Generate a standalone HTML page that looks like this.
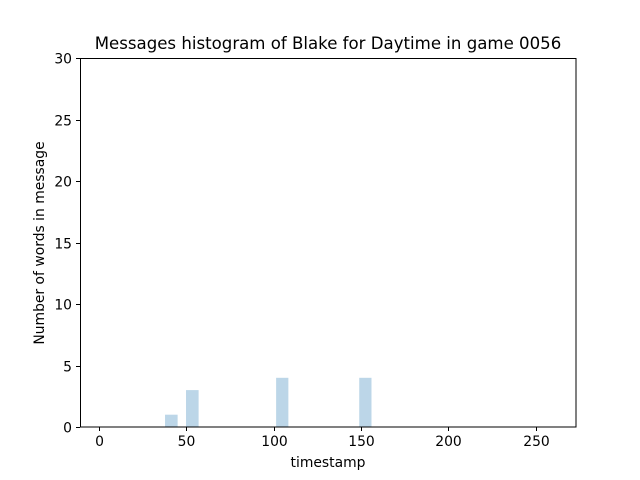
<!DOCTYPE html>
<html><head><meta charset="utf-8"><style>
body{margin:0;background:#fff;}
svg{display:block;font-family:"DejaVu Sans","Liberation Sans",sans-serif;}
</style></head><body>
<svg id="chart" width="640" height="480">
<rect width="640" height="480" fill="#fff"/>
<text x="328" y="49" text-anchor="middle" font-size="16.6">Messages histogram of Blake for Daytime in game 0056</text>
<g id="bars"></g>
<g id="xaxis"></g>
<g id="yaxis"></g>
<rect x="80.5" y="58.5" width="495.5" height="368.5" fill="none" stroke="#000" stroke-width="1"/>
<text x="328" y="467" text-anchor="middle" font-size="13.9">timestamp</text>
<text transform="translate(44,243) rotate(-90)" text-anchor="middle" font-size="13.9">Number of words in message</text>
</svg>
<script>
const binStarts = [38, 50, 101.5, 149];
const binWidths = [7.2, 7.2, 7, 7];
const counts = [1, 3, 4, 4];
const xTicks = [0, 50, 100, 150, 200, 250];
const yTicks = [0, 5, 10, 15, 20, 25, 30];

const NS = "http://www.w3.org/2000/svg";
const X0 = 80, X1 = 576, Y0 = 427, Y1 = 58;
const xMin = -10.6, xMax = 272.9, yMin = 0, yMax = 30;
const xs = v => X0 + (v - xMin) / (xMax - xMin) * (X1 - X0);
const ys = v => Y0 - (v - yMin) / (yMax - yMin) * (Y0 - Y1);
function mk(tag, attrs, parent) {
  const e = document.createElementNS(NS, tag);
  for (const k in attrs) e.setAttribute(k, attrs[k]);
  parent.appendChild(e);
  return e;
}
const bars = document.getElementById('bars');
counts.forEach((c, i) => {
  const r = mk('rect', {x: xs(binStarts[i]), y: ys(c), width: xs(binStarts[i] + binWidths[i]) - xs(binStarts[i]), height: ys(0) - ys(c), fill: 'rgb(188,214,232)'}, bars);
  
  
});
const xa = document.getElementById('xaxis');
xTicks.forEach(t => {
  const x = Math.round(xs(t)) + 0.5;
  const l = mk('line', {x1: x, x2: x, y1: Y0, y2: Y0 + 4, stroke: '#000'}, xa);
  
  
  const tx = mk('text', {x: x, y: Y0 + 19, 'text-anchor': 'middle', 'font-size': 13.9}, xa);
  tx.textContent = t;
  
  
});
const ya = document.getElementById('yaxis');
yTicks.forEach(t => {
  const y = Math.round(ys(t)) + 0.5;
  const l = mk('line', {x1: X0 - 4, x2: X0, y1: y, y2: y, stroke: '#000'}, ya);
  
  
  const tx = mk('text', {x: X0 - 8, y: y + 5, 'text-anchor': 'end', 'font-size': 13.9}, ya);
  tx.textContent = t;
  
  
});
</script>
</body></html>
